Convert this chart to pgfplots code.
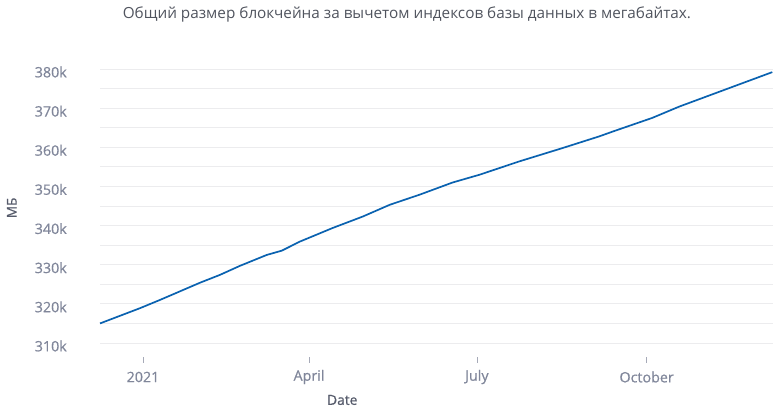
\documentclass[border=0pt]{standalone}
\usepackage{pgfplots}
\pgfplotsset{compat=1.18}
\usepackage{fontspec}
\setmainfont{Open Sans}
\newfontfamily\semib[FakeBold=0.6]{Open Sans}
\definecolor{lineblue}{HTML}{0A62B0}
\definecolor{ticktxt}{HTML}{80869A}
\definecolor{titletxt}{HTML}{50545E}
\definecolor{labtxt}{HTML}{565B6B}
\definecolor{gridc}{HTML}{ECECEE}
\begin{document}
\begin{tikzpicture}
\path[use as bounding box] (0,0) rectangle (775pt,411pt);
\begin{axis}[
  scale only axis,
  width=673pt, height=274pt,
  at={(100pt,68pt)}, anchor=south west,
  xmin=-23.3, xmax=341.5,
  ymin=310, ymax=380,
  axis line style={draw=none},
  ytick={310,320,330,340,350,360,370,380},
  yticklabels={},
  yticklabel style={text opacity=0},
  minor ytick={315,325,335,345,355,365,375},
  ymajorgrids, yminorgrids,
  major grid style={gridc, line width=0.9pt},
  minor grid style={gridc, line width=0.9pt},
  ytick style={draw=none},
  xtick={0,90,181,273},
  xticklabels={2021,April,July,October},
  xtick align=outside,
  major tick length=6pt,
  xtick style={draw=ticktxt!70, line width=0.8pt, yshift=-14pt},
  xticklabel style={font=\semib\fontsize{14.3}{16}\selectfont, text=ticktxt, anchor=center, yshift=-28pt},
  xtick pos=bottom,
  title={Общий размер блокчейна за вычетом индексов базы данных в мегабайтах.},
  every axis title shift=0pt,
  title style={font=\fontsize{15.3}{18}\selectfont, text=titletxt, at={(axis description cs:0.456,1.2)}, anchor=center},
  xlabel={Date},
  xlabel style={font=\semib\fontsize{13.8}{16}\selectfont, text=labtxt, at={(axis description cs:0.36,-0.208)}, anchor=center},
  ylabel={МБ},
  ylabel style={font=\semib\fontsize{13.5}{16}\selectfont, text=labtxt, at={(axis description cs:-0.131,0.493)}, anchor=center, rotate=0},
  clip=false,
  extra description/.code={
    \foreach \r/\t in {0/310k,0.142857/320k,0.285714/330k,0.428571/340k,0.571429/350k,0.714286/360k,0.857143/370k,1/380k}{
      \node[anchor=east, inner sep=0pt, xshift=-33pt, yshift=-3pt, font=\semib\fontsize{14.3}{16}\selectfont, text=ticktxt] at (axis description cs:0,\r) {\t};
    }
  },
]
\addplot[lineblue, line width=1.7pt] coordinates {
(-23.3,315.0) (-1.6,318.9) (9.2,321.0) (30.9,325.4) (41.7,327.4) (52.5,329.7)
(67.1,332.5) (75.3,333.6) (85,335.9) (102.9,339.4) (119.1,342.3) (133.7,345.3)
(150,347.9) (167.8,351.0) (182.5,353.0) (204,356.4) (227.4,359.8) (247.4,362.8)
(254.5,364.0) (276,367.5) (290.7,370.4) (341.1,379.2)
};
\end{axis}
\end{tikzpicture}
\end{document}
